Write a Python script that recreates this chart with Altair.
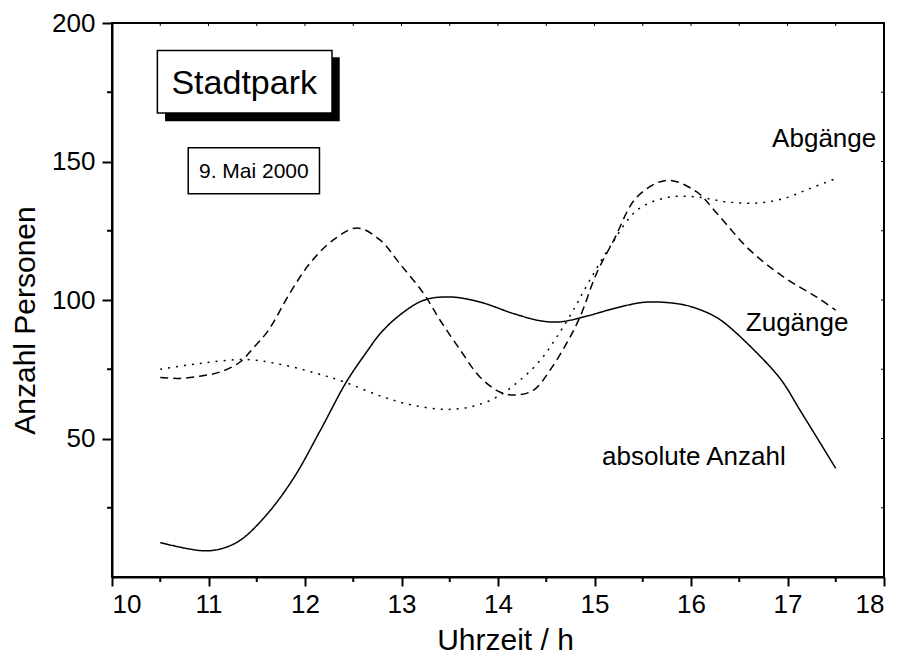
import altair as alt
import pandas as pd

FONT = "Liberation Sans"

# absolute Anzahl (solid)
abs_t = [10.5, 10.93, 11.12, 11.33, 11.6, 11.88, 12.16, 12.43, 12.64, 12.78, 12.98, 13.23, 13.5,
         13.81, 14.16, 14.44, 14.64, 14.92, 15.2, 15.47, 15.64, 15.92, 16.1, 16.27, 16.44, 16.82,
         16.96, 17.13, 17.3, 17.5]
abs_v = [12.4, 9.5, 10.1, 13.3, 22.4, 35.6, 53.0, 70.5, 81.3, 87.9, 94.5, 99.9, 101.1,
         99.3, 95.1, 92.5, 92.1, 94.2, 96.9, 99.0, 99.3, 98.3, 96.4, 93.6, 89.0, 75.9,
         69.9, 60.2, 50.6, 39.2]

# Zugänge (dashed)
zu_t = [10.5, 10.7, 10.91, 11.12, 11.33, 11.46, 11.62, 11.84, 12.05, 12.29, 12.54, 12.78, 12.98,
        13.23, 13.4, 13.61, 13.81, 14.02, 14.19, 14.37, 14.54, 14.71, 14.85, 15.02, 15.2, 15.44,
        15.75, 16.06, 16.27, 16.61, 16.96, 17.3, 17.5]
zu_v = [72.0, 71.7, 72.5, 74.0, 77.7, 82.5, 89.0, 102.3, 113.2, 121.6, 126.0, 121.6, 113.2,
        102.3, 92.7, 81.9, 72.3, 66.8, 65.7, 67.5, 74.7, 84.3, 93.9, 109.5, 121.6, 137.2,
        143.2, 139.0, 131.2, 118.0, 108.3, 101.1, 96.3]

# Abgänge (dotted)
ab_t = [10.5, 10.91, 11.4, 11.78, 12.12, 12.4, 12.81, 13.12, 13.47, 13.75, 13.99, 14.23, 14.44,
        14.61, 14.78, 14.95, 15.16, 15.44, 15.75, 16.06, 16.37, 16.68, 16.96, 17.23, 17.5]
ab_v = [75.0, 77.1, 78.5, 76.5, 73.5, 70.5, 65.0, 62.0, 60.5, 61.7, 65.0, 71.1, 78.3,
        86.7, 96.3, 107.1, 119.2, 132.4, 137.0, 137.2, 135.4, 135.0, 136.6, 140.2, 143.8]

series_names = ["absolute Anzahl", "Zugänge", "Abgänge"]

x_major = [10, 11, 12, 13, 14, 15, 16, 17, 18]
x_minor = [10.5, 11.5, 12.5, 13.5, 14.5, 15.5, 16.5, 17.5]
x_top = [10.5, 11, 11.5, 12, 12.5, 13, 13.5, 14, 14.5, 15, 15.5, 16, 16.5, 17, 17.5]
y_major = [50, 100, 150, 200]
y_minor = [25, 75, 125, 175]
y_right = [25, 50, 75, 100, 125, 150, 175]

# curve labels
lab_text = ["Abgänge", "Zugänge", "absolute Anzahl"]
lab_t = [17.38, 17.1, 16.03]
lab_v = [155.1, 88.7, 40.4]

# boxes
title_text = ["Stadtpark"]
title_t = [11.37]
title_v = [174.4]
title_box = dict(t1=[10.47], t2=[12.28], v1=[190.1], v2=[167.5])
shadow_box = dict(t1=[10.55], t2=[12.36], v1=[187.6], v2=[164.5])
date_text = ["9. Mai 2000"]
date_t = [11.47]
date_v = [144.0]
date_box = dict(t1=[10.79], t2=[12.15], v1=[155.0], v2=[138.4])

rows = []
for name, ts, vs in zip(series_names, [abs_t, zu_t, ab_t], [abs_v, zu_v, ab_v]):
    for t, v in zip(ts, vs):
        rows.append({"t": t, "v": v, "serie": name})
df = pd.DataFrame(rows)

W, H = 772, 554

xscale = alt.Scale(domain=[10, 18], nice=False, zero=False)
yscale = alt.Scale(domain=[0, 200], nice=False)

xaxis = alt.Axis(values=x_major, format="d", tickSize=9, tickWidth=2, domainWidth=2,
                 domainColor="black", tickColor="black", labelColor="black",
                 labelFont=FONT, labelFontSize=26, labelPadding=5, grid=False,
                 title="Uhrzeit / h", titleFont=FONT, titleFontSize=30, titleFontWeight="normal",
                 titleColor="black", titleX=393, titleY=72, titleBaseline="alphabetic")
yaxis = alt.Axis(values=y_major, format="d", tickSize=10, tickWidth=2, domainWidth=2,
                 domainColor="black", tickColor="black", labelColor="black",
                 labelFont=FONT, labelFontSize=26, labelPadding=7, grid=False,
                 title="Anzahl Personen", titleFont=FONT, titleFontSize=30, titleFontWeight="normal",
                 titleColor="black", titleAngle=270, titleX=-78, titleY=297,
                 titleBaseline="alphabetic", titleAlign="center")

lines = alt.Chart(df).mark_line(color="black", strokeWidth=1.5, interpolate="catmull-rom").encode(
    x=alt.X("t:Q", scale=xscale, axis=xaxis),
    y=alt.Y("v:Q", scale=yscale, axis=yaxis),
    strokeDash=alt.StrokeDash("serie:N", scale=alt.Scale(domain=series_names,
                              range=[[1, 0], [8, 5], [2, 6]]), legend=None),
    detail="serie:N",
)

def rule_x(vals, y1, y2, w=2):
    return alt.Chart(pd.DataFrame({"t": vals})).mark_rule(color="black", strokeWidth=w).encode(
        x=alt.X("t:Q", scale=xscale), y=alt.value(y1), y2=alt.value(y2))

def rule_y(vals, x1, x2, w=2):
    return alt.Chart(pd.DataFrame({"v": vals})).mark_rule(color="black", strokeWidth=w).encode(
        y=alt.Y("v:Q", scale=yscale), x=alt.value(x1), x2=alt.value(x2))

ticks = [
    rule_x(x_minor, H, H + 5),
    rule_y(y_minor, -5, 0),
    rule_x(x_top, 0, 3, 1),
    rule_y(y_right, W - 3, W, 1),
]

def box(d, fill, stroke=None):
    kw = dict(fill=fill)
    if stroke:
        kw.update(stroke=stroke, strokeWidth=1.5)
    return alt.Chart(pd.DataFrame(d)).mark_rect(**kw).encode(
        x=alt.X("t1:Q", scale=xscale), x2="t2:Q",
        y=alt.Y("v1:Q", scale=yscale), y2="v2:Q")

shadow = box(shadow_box, "black")
tbox = box(title_box, "white", "black")
dbox = box(date_box, "white", "black")

def texts(txt, ts, vs, size):
    return alt.Chart(pd.DataFrame({"txt": txt, "t": ts, "v": vs})).mark_text(
        font=FONT, fontSize=size, color="black", align="center", baseline="alphabetic").encode(
        x=alt.X("t:Q", scale=xscale), y=alt.Y("v:Q", scale=yscale), text="txt:N")

chart = alt.layer(
    lines, *ticks, shadow, tbox, dbox,
    texts(title_text, title_t, title_v, 34),
    texts(date_text, date_t, date_v, 21),
    texts(lab_text, lab_t, lab_v, 26),
).properties(
    width=W, height=H,
    autosize=alt.AutoSizeParams(type="none"),
    padding={"left": 104, "top": 15, "right": 10, "bottom": 80},
    background="white",
).configure_view(stroke="black", strokeWidth=2)

chart.save("out.html", embed_options={"renderer": "svg", "actions": False})
